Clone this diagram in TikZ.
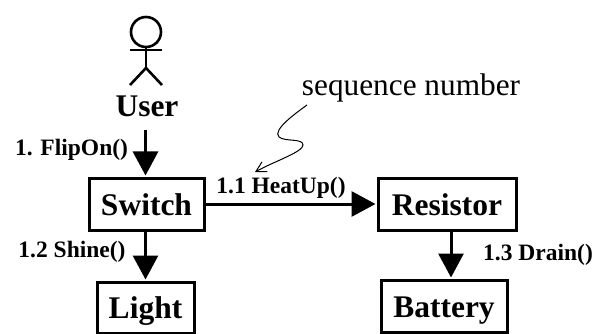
\documentclass[tikz,border=0pt]{standalone}
\usepackage{fontspec}
\setmainfont{Liberation Serif}
\usetikzlibrary{arrows.meta}
\tikzset{
  classbox/.style={draw, line width=3pt, inner sep=0pt, text height=22pt, text depth=0pt, font=\fontsize{31.5}{31.5}\selectfont\bfseries},
  msglabel/.style={inner sep=0pt, font=\fontsize{23.5}{23.5}\selectfont\bfseries},
  msgarrow/.style={line width=3pt, -{Triangle[length=24pt, width=25pt]}, shorten >=1pt},
  actorline/.style={line width=2.6pt}
}
\begin{document}
\begin{tikzpicture}[x=1pt, y=-1pt]
\useasboundingbox (0,0) rectangle (597,334);
\draw [actorline] (146,32) circle [radius = 15pt];
\draw [actorline] (146,47) -- (146,68);
\draw [actorline] (130,50) -- (162,50);
\draw [actorline] (130,85) -- (146,68) -- (162,85);
\node (user) at (147,106) [inner sep=0pt, text height=22pt, text depth=0pt, font=\fontsize{31.5}{31.5}\selectfont\bfseries] {User};
\node (switch) at (146.5,204) [classbox, minimum width=115pt, minimum height=52pt] {Switch};
\node (light) at (145.5,307.5) [classbox, minimum width=97pt, minimum height=51pt] {Light};
\node (resistor) at (447,204) [classbox, minimum width=138pt, minimum height=52pt] {Resistor};
\node (battery) at (444,306) [classbox, minimum width=126pt, minimum height=52pt] {Battery};
\node (flipon) at (71.5,150) [msglabel] {1. FlipOn()};
\node (heatup) at (281,188) [msglabel] {1.1 HeatUp()};
\node (shine) at (72,252) [msglabel] {1.2 Shine()};
\node (drain) at (538,255) [msglabel] {1.3 Drain()};
\node (seqnum) at (411,88) [inner sep=0pt, font=\fontsize{31.3}{31.3}\selectfont] {sequence number};
\draw [msgarrow] (user.south -| light.north) ++(0,13) -- (light.north |- switch.north);
\draw [msgarrow] (switch.east) -- (resistor.west);
\draw [msgarrow] (switch.south -| light.north) -- (light.north);
\draw [msgarrow] (resistor.south -| 451,0) -- (battery.north -| 451,0);
\coordinate (squigstart) at (307,105);
\coordinate (squigend) at (255,172);
\draw [line width=1pt, -{Straight Barb[length=10pt, width=11pt]}] (squigstart) .. controls (296,113) and (272,130) .. (279,137) .. controls (285,142) and (303,138) .. (303,145) .. controls (303,152) and (275,161) .. (squigend);
\end{tikzpicture}
\end{document}
